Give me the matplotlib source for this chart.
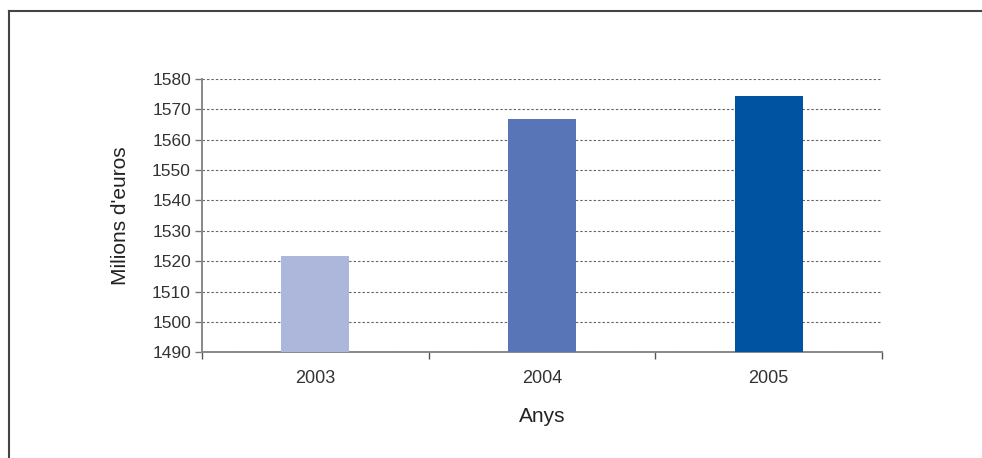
import matplotlib
matplotlib.use("Agg")
import matplotlib.pyplot as plt
from matplotlib.lines import Line2D

plt.rcParams['font.family'] = ['Liberation Sans', 'DejaVu Sans']

years = ['2003', '2004', '2005']
values = [1521.8, 1566.8, 1574.4]
colors = ['#ADB7DB', '#5876B7', '#0053A0']
yticks = [1490, 1500, 1510, 1520, 1530, 1540, 1550, 1560, 1570, 1580]

fig = plt.figure(figsize=(9.82, 4.58), dpi=100)
ax = fig.add_axes([202 / 982, 1 - 352.3 / 458, 680 / 982, (352.3 - 79) / 458])

x = list(range(len(years)))
ax.bar(x, values, width=0.30, color=colors, zorder=3, bottom=0)
ax.set_ylim(1490, 1580)
ax.set_xlim(-0.5, 2.5)

ax.set_yticks(yticks)
ax.set_yticklabels([str(v) for v in yticks])
ax.yaxis.grid(True, linestyle=(0, (2.2, 1.8)), color='#666666', linewidth=0.8, zorder=0)
ax.set_axisbelow(True)

ax.set_xticks(x)
ax.set_xticklabels(years)
ax.set_xticks([-0.5, 0.5, 1.5, 2.5], minor=True)
ax.tick_params(axis='x', which='major', length=0, pad=13, labelsize=13, labelcolor='#333333')
ax.tick_params(axis='x', which='minor', length=5, width=1, color='#555555', direction='out')
ax.tick_params(axis='y', length=5, width=1, color='#777777', direction='out', pad=3,
               labelsize=12.5, labelcolor='#333333')

for side in ('top', 'right'):
    ax.spines[side].set_visible(False)
for side in ('left', 'bottom'):
    ax.spines[side].set_color('#888888')
    ax.spines[side].set_linewidth(1.4)

ax.set_ylabel("Milions d'euros", fontsize=15, color='#222222', labelpad=16)
ax.set_xlabel('Anys', fontsize=15, color='#222222', labelpad=14)

# outer frame
fig.add_artist(Line2D([9 / 982, 9 / 982], [0, 1 - 11 / 458], transform=fig.transFigure,
                      color='#444444', linewidth=1.5))
fig.add_artist(Line2D([9 / 982, 1], [1 - 11 / 458, 1 - 11 / 458], transform=fig.transFigure,
                      color='#444444', linewidth=1.5))

fig.savefig('out.png', dpi=100, facecolor='white')
